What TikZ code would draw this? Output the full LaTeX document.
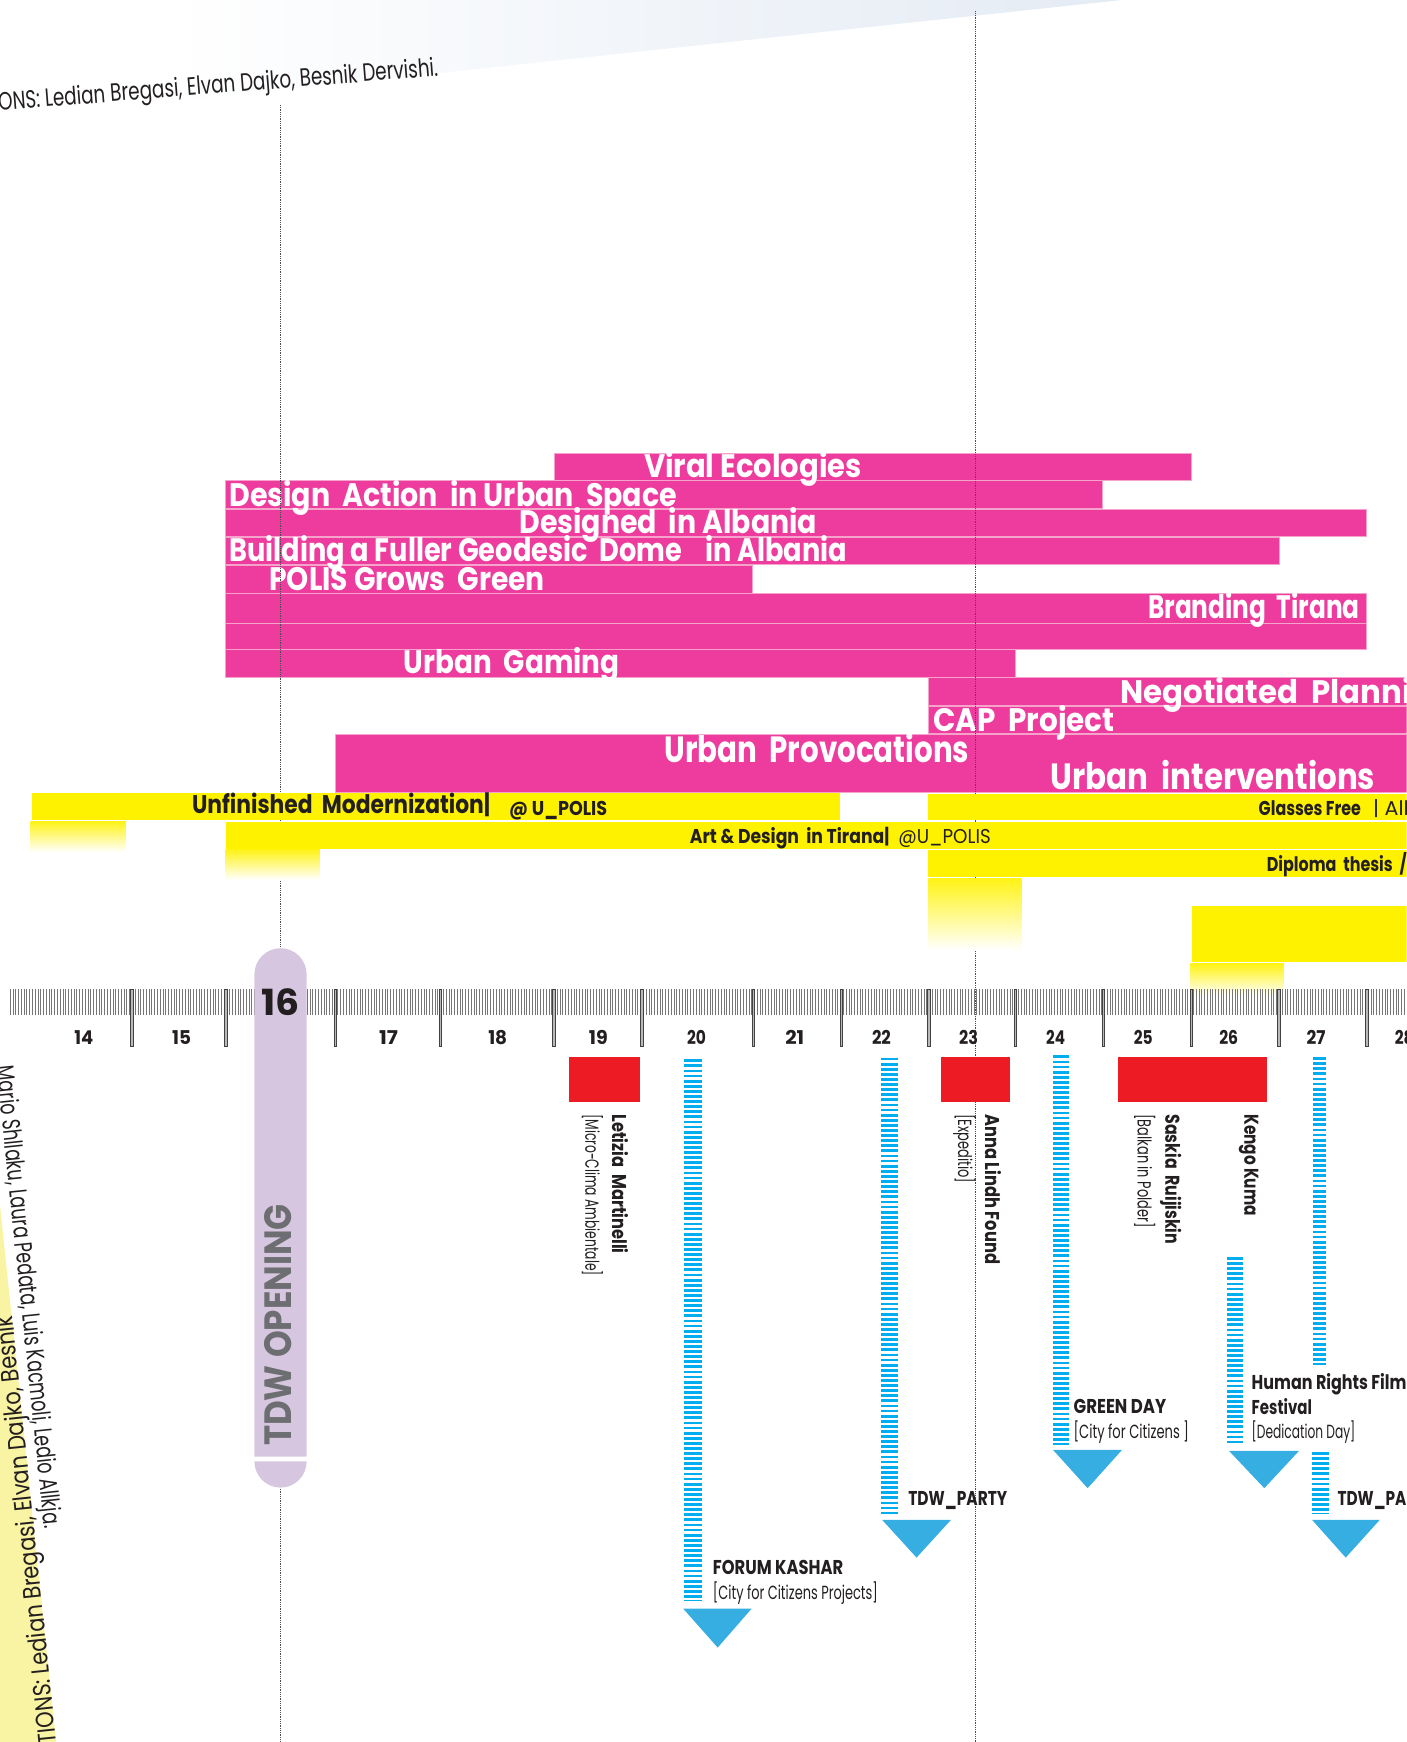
\documentclass[tikz,border=0pt]{standalone}
\usepackage{fontspec}
\usepackage{graphicx}
\newfontfamily\pop{Poppins}
\newdimen\pu
\pu=1.1106pt
\newcommand\tw[2]{\resizebox{#1\pu}{\height}{#2}}
\definecolor{pk}{HTML}{EE3B9E}
\definecolor{pkl}{HTML}{F6A3CC}
\definecolor{ye}{HTML}{FFF200}
\definecolor{rd}{HTML}{ED1C24}
\definecolor{stripe}{HTML}{00AEEF}
\definecolor{tri}{HTML}{36AEE2}
\definecolor{pillc}{HTML}{D6C6E0}
\definecolor{dk}{HTML}{231F20}
\definecolor{gy}{HTML}{6D6E71}
\definecolor{bandc}{HTML}{F9F3A4}
\definecolor{topb}{HTML}{E4EBF4}
\definecolor{tickc}{HTML}{767676}
\begin{document}
\begin{tikzpicture}[x=1.1106pt,y=-1.1106pt,
  pbar/.style={fill=pk, draw=pkl, line width=0.6pt},
  ybar/.style={fill=ye},
  yfade/.style={top color=ye!92!white, bottom color=white},
  ptext/.style={anchor=base west, inner sep=0pt, outer sep=0pt, text=white, font=\pop\bfseries\fontsize{32.5}{32.5}\selectfont},
  bigp/.style={ptext, font=\pop\bfseries\fontsize{36.5}{36.5}\selectfont},
  ytext/.style={anchor=base west, inner sep=0pt, outer sep=0pt, text=dk, font=\pop\bfseries\fontsize{25.5}{25.5}\selectfont},
  ysmall/.style={ytext, font=\pop\bfseries\fontsize{20}{20}\selectfont},
  yreg/.style={ytext, font=\pop\fontsize{20}{20}\selectfont},
  day/.style={anchor=base, inner sep=0pt, outer sep=0pt, text=dk, font=\pop\bfseries\fontsize{19}{19}\selectfont},
  lab/.style={anchor=base west, inner sep=0pt, outer sep=0pt, text=dk, font=\pop\bfseries\fontsize{20}{20}\selectfont},
  sub/.style={anchor=base west, inner sep=0pt, outer sep=0pt, text=dk, font=\pop\fontsize{19}{19}\selectfont},
  vlab/.style={lab, rotate=-90},
  vsub/.style={sub, rotate=-90},
  names/.style={anchor=base west, inner sep=0pt, outer sep=0pt, text=dk, font=\pop\fontsize{25}{25}\selectfont},
  dotl/.style={draw=gy!70!black, line width=0.7pt, dash pattern=on 0.9pt off 0.9pt},
  stripes/.style={draw=stripe, dash pattern=on 2.8pt off 2.3pt},
  tickst/.style={draw=tickc, line width=0.5pt},
  sepst/.style={fill=gray!55, draw=dk!85, line width=0.45pt},
  redbox/.style={fill=rd},
  tribox/.style={fill=tri}
]
\useasboundingbox (0,0) rectangle (1266,1568);
\begin{scope}
\clip (0,0) rectangle (1266,1568);
% faint top wedge
\shade[left color=white, right color=topb] (150,0) -- (1010,0) -- (150,92) -- cycle;
% pink bars
\path[pbar] (498.7,407.6) rectangle (1072.2,432.4);
\path[pbar] (203,432.6) rectangle (992.5,457.8);
\path[pbar] (203,458.2) rectangle (1229.4,482.8);
\path[pbar] (203,483.2) rectangle (1151.2,508);
\path[pbar] (203,508.4) rectangle (677.4,533.6);
\path[pbar] (203,534.2) rectangle (1229.4,560.8);
\path[pbar] (203,561.3) rectangle (1229.4,584.4);
\path[pbar] (203,584.8) rectangle (914.3,609.4);
\path[pbar] (835.6,609.9) rectangle (1280,634.9);
\path[pbar] (835.6,635.7) rectangle (1280,660);
\path[pbar] (301.8,661) rectangle (1280,713.2);
% pink texts
\node[ptext] (t-viral) at (579.7,430.2) {\tw{196}{Viral Ecologies}};
\node[ptext] (t-dais) at (206.4,455.6) {\tw{403}{Design~ Action~ in Urban~ Space}};
\node[ptext] (t-dia) at (467.5,480.2) {\tw{268}{Designed~ in Albania}};
\node[ptext] (t-bfg) at (206.4,505.7) {\tw{556}{Building a Fuller Geodesic~ Dome~ ~ in Albania}};
\node[ptext] (t-pgg) at (242.4,531.2) {\tw{248}{POLIS Grows~ Green}};
\node[ptext] (t-bt) at (1033.4,556.5) {\tw{190.5}{Branding~ Tirana}};
\node[ptext] (t-ug) at (363.6,606.3) {\tw{194}{Urban~ Gaming}};
\node[ptext] (t-np) at (1008.5,633.3) {\tw{262}{Negotiated~ Planni}};
\node[ptext] (t-cap) at (840,658.2) {\tw{163.3}{CAP~ Project}};
\node[bigp] (t-up) at (598,686) {\tw{274.4}{Urban~ Provocations}};
\node[bigp] (t-ui) at (946,710.4) {\tw{291.8}{Urban~ interventions}};
% dotted guide lines
\draw[dotl] (252.6,94.5) -- (252.6,853);
\draw[dotl] (252.6,1340) -- (252.6,1568);
\draw[dotl] (877.6,10) -- (877.6,1568);
% yellow bars
\path[ybar] (29,713.7) rectangle (755.8,738.4);
\path[ybar] (835.6,714.3) rectangle (1280,738.4);
\path[ybar] (203,739.5) rectangle (1280,763.8);
\path[ybar] (835.6,765.4) rectangle (1280,789.4);
\path[ybar] (1073,815.8) rectangle (1280,866);
\shade[yfade] (27.3,739) rectangle (113.3,767);
\shade[yfade] (203,764.5) rectangle (288,791.8);
\shade[yfade] (835.6,790.3) rectangle (919.3,855.4);
\shade[yfade] (1071.4,867.4) rectangle (1155.7,896);
% yellow texts
\node[ytext] (y-um) at (172.9,732.3) {\tw{268.4}{Unfinished~ Modernization|}};
\node[ysmall] (y-up1) at (458.3,733.8) {\tw{88.3}{@ U\_POLIS}};
\node[ysmall] (y-adt) at (621,759.3) {\tw{179.5}{Art \& Design~ in Tirana|}};
\node[yreg] (y-up2) at (808.6,759.3) {\tw{83.2}{@U\_POLIS}};
\node[ysmall] (y-gf) at (1133,733.8) {\tw{92}{Glasses Free}};
\node[yreg] (y-all) at (1236,733.8) {\tw{32}{| All}};
\node[ysmall] (y-dt) at (1140.3,784.5) {\tw{126}{Diploma~ thesis~ /}};
% left rotated band and names
\fill[bandc] (53,1592) -- (-1,1075) -- (-80,1075) -- (-80,1592) -- cycle;
\node[names, rotate=95.9] (band-t) at (51.5,1574) {\tw{392}{ITIONS: Ledian Bregasi, Elvan Dajko, Besnik}};
\node[names, anchor=base east, rotate=-84.1] (left-t) at (40,1376) {\tw{418}{Mario Shllaku, Laura Pedata, Luis Kacmoli, Ledio Allkja.}};
\node[names, rotate=4.5] (top-t) at (-1,99.5) {\tw{397}{ONS: Ledian Bregasi, Elvan Dajko, Besnik Dervishi.}};
% ruler
\draw[tickst] foreach \i in {0,...,502} {(9+2.5*\i,890.5) -- ++(0,23.5)};
\foreach \s in {118.6,203,301.5,396,498.5,577.6,678,757,836,914,993,1072,1151,1230}
  {\path[sepst] (\s-1.1,890.5) rectangle (\s+1.1,941.8);}
\foreach \d/\x in {14/75.4,15/163.4,17/349.7,18/448,19/538.6,20/627,21/715.4,22/793.4,23/871.9,24/950.2,25/1029,26/1106,27/1184.7,28/1264}
  {\node[day] (day\d) at (\x,940) {\tw{17}{\d}};}
% opening pill
\fill[pillc] (229,1311) -- (229,877) arc[start angle=180, end angle=360, radius=23.5] -- (276,1311) -- cycle;
\fill[pillc] (229,1315.5) -- (276,1315.5) arc[start angle=0, end angle=180, radius=23.5] -- cycle;
\node[day, font=\pop\bfseries\fontsize{36}{36}\selectfont] (day16) at (252.8,914) {\tw{34.4}{16}};
\node[lab, text=gy, font=\pop\bfseries\fontsize{38}{38}\selectfont, rotate=90] (opening) at (262.6,1301.5) {\tw{217.5}{TDW OPENING}};
% red lecture boxes
\path[redbox] (512.3,951.5) rectangle (576.3,992);
\path[redbox] (847.3,951.5) rectangle (909.4,992);
\path[redbox] (1006.7,951.5) rectangle (1140.8,992);
\node[vlab] (n-let) at (551.5,1003) {\tw{125.5}{Letizia~ Martinelli}};
\node[vsub] (s-let) at (527,1003) {\tw{145.5}{[Micro-Clima Ambientale]}};
\node[vlab] (n-anna) at (887,1003) {\tw{135}{Anna Lindh Found}};
\node[vsub] (s-anna) at (862.5,1003) {\tw{62}{[Expeditio]}};
\node[vlab] (n-sas) at (1049,1003) {\tw{117}{Saskia~ Ruijiskin}};
\node[vsub] (s-sas) at (1024,1003) {\tw{102}{[Balkan in Polder]}};
\node[vlab] (n-ken) at (1120,1003) {\tw{91.5}{Kengo Kuma}};
% blue striped event bars and arrow heads
\draw[stripes, line width=17.6pt] (623.9,953.5) -- (623.9,1441);
\draw[stripes, line width=16.6pt] (800.8,952) -- (800.8,1363);
\draw[stripes, line width=16.1pt] (954.8,950) -- (954.8,1301);
\draw[stripes, line width=16.3pt] (1111.9,1131.5) -- (1111.9,1299);
\draw[stripes, line width=13.1pt] (1187.3,951.5) -- (1187.3,1229);
\draw[stripes, line width=16.6pt] (1188.5,1307) -- (1188.5,1363);
\path[tribox] (615,1448) -- (676.5,1448) -- (646,1483) -- cycle;
\path[tribox] (794,1368) -- (856,1368) -- (825,1402) -- cycle;
\path[tribox] (947.8,1305) -- (1010,1305) -- (979,1339.5) -- cycle;
\path[tribox] (1106.3,1306) -- (1169.2,1306) -- (1138,1339.5) -- cycle;
\path[tribox] (1181,1368) -- (1242,1368) -- (1211.3,1402) -- cycle;
% event labels
\node[lab] (e-fk) at (641.7,1417) {\tw{117.3}{FORUM KASHAR}};
\node[sub] (e-fk-s) at (641.7,1440) {\tw{148.5}{[City for Citizens Projects]}};
\node[lab] (e-p1) at (817.6,1355) {\tw{89}{TDW\_PARTY}};
\node[lab] (e-gd) at (966.4,1272.6) {\tw{83.4}{GREEN DAY}};
\node[sub] (e-gd-s) at (966.4,1294.5) {\tw{103.8}{[City for Citizens ]}};
\node[lab] (e-hr) at (1126.7,1250.5) {\tw{139.3}{Human Rights Film}};
\node[lab] (e-hr2) at (1126.7,1273.2) {\tw{54.3}{Festival}};
\node[sub] (e-hr-s) at (1126.7,1295) {\tw{93.3}{[Dedication Day]}};
\node[lab] (e-p2) at (1204,1355) {\tw{62}{TDW\_PA}};
\end{scope}
\end{tikzpicture}
\end{document}
